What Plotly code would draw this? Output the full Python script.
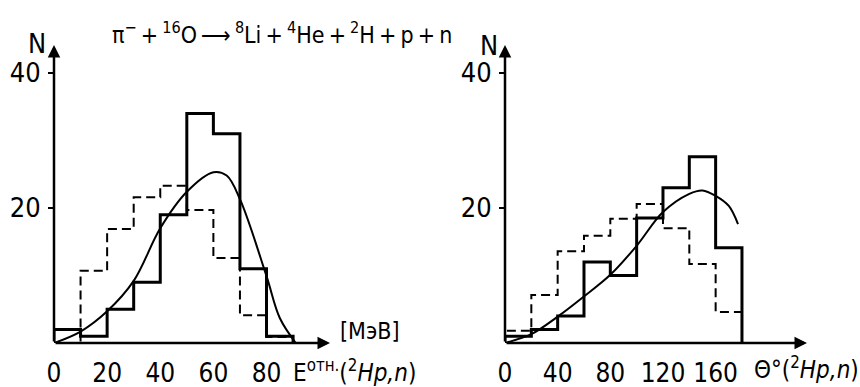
import plotly.graph_objects as go

# ---------------- data ----------------
e_edges = [0, 10, 20, 30, 40, 50, 60, 70, 80, 90]
e_solid = [2, 1, 5, 9, 19, 34, 31, 11, 1]
e_dashed = [0, 10.7, 16.9, 21.6, 23.3, 19.7, 12.6, 4.1, 0.9]
e_curve_x = [0, 10, 20, 30, 40, 50, 60, 65, 70, 80, 85, 91]
e_curve_y = [0, 1.7, 4.7, 9.2, 17, 22.4, 25.3, 24.8, 21.3, 9.9, 3.7, 0]
e_ticks = [0, 20, 40, 60, 80]

t_edges = [0, 20, 40, 60, 80, 100, 120, 140, 160, 180]
t_solid = [1, 2, 4, 12, 10, 18.5, 23, 27.6, 14.1]
t_dashed = [1.8, 7.1, 13.6, 15.9, 18.4, 20.6, 17, 11.7, 4.6]
t_curve_x = [0, 20, 40, 60, 80, 100, 120, 140, 150, 160, 170, 177]
t_curve_y = [0, 1.3, 3.9, 6.9, 10.1, 14.4, 19.4, 22.1, 22.6, 21.8, 20.3, 17.6]
t_ticks = [0, 40, 80, 120, 160]

n_ticks = [20, 40]

FONT = "Liberation Sans Narrow, DejaVu Sans Condensed, Arial Narrow, sans-serif"
W, H = 860, 387


def steps(edges, vals):
    xs, ys = [edges[0]], [0]
    for i, v in enumerate(vals):
        xs += [edges[i], edges[i + 1]]
        ys += [v, v]
    xs.append(edges[-1])
    ys.append(0)
    return xs, ys


fig = go.Figure()

for (edges, solid, dashed, cx, cy, xa, ya) in [
    (e_edges, e_solid, e_dashed, e_curve_x, e_curve_y, "x", "y"),
    (t_edges, t_solid, t_dashed, t_curve_x, t_curve_y, "x2", "y2"),
]:
    xs, ys = steps(edges, dashed)
    fig.add_trace(go.Scatter(x=xs, y=ys, mode="lines", xaxis=xa, yaxis=ya,
                             line=dict(color="black", width=2, dash="9px,5px"),
                             showlegend=False, hoverinfo="skip"))
    xs, ys = steps(edges, solid)
    fig.add_trace(go.Scatter(x=xs, y=ys, mode="lines", xaxis=xa, yaxis=ya,
                             line=dict(color="black", width=3),
                             showlegend=False, hoverinfo="skip"))
    fig.add_trace(go.Scatter(x=cx, y=cy, mode="lines", xaxis=xa, yaxis=ya,
                             line=dict(color="black", width=2, shape="spline"),
                             showlegend=False, hoverinfo="skip"))

ymax = 44.44
xax_common = dict(showgrid=False, zeroline=False, showline=False, ticks="",
                  automargin=False,
                  tickfont=dict(family=FONT, size=26, color="black"),
                  ticklabelstandoff=12)
yax_common = dict(showgrid=False, zeroline=False, showline=False, ticks="outside",
                  automargin=False,
                  ticklen=5, tickwidth=2, tickcolor="black",
                  tickvals=n_ticks, ticktext=[str(v) for v in n_ticks],
                  tickfont=dict(family=FONT, size=27, color="black"),
                  ticklabelstandoff=2, range=[0, ymax])

fig.update_layout(
    width=W, height=H, margin=dict(l=0, r=0, t=0, b=0, autoexpand=False),
    paper_bgcolor="white", plot_bgcolor="white",
    xaxis=dict(domain=[54 / W, 330 / W], range=[0, 103.9], anchor="y",
               tickvals=e_ticks, ticktext=[str(v) for v in e_ticks], **xax_common),
    yaxis=dict(domain=[(H - 343) / H, (H - 43) / H], anchor="x", **yax_common),
    xaxis2=dict(domain=[505 / W, 807 / W], range=[0, 229.4], anchor="y2",
                tickvals=t_ticks, ticktext=[str(v) for v in t_ticks], **xax_common),
    yaxis2=dict(domain=[(H - 343) / H, (H - 43) / H], anchor="x2", **yax_common),
)

# axis arrows
for xa, ya, xend in [("x", "y", 103.9), ("x2", "y2", 229.4)]:
    fig.add_annotation(x=xend, y=0, ax=0, ay=0, xref=xa, yref=ya, axref=xa, ayref=ya,
                       showarrow=True, arrowhead=2, arrowsize=1, arrowwidth=2.5,
                       arrowcolor="black", text="")
    fig.add_annotation(x=0, y=ymax - 0.3, ax=0, ay=0, xref=xa, yref=ya, axref=xa, ayref=ya,
                       showarrow=True, arrowhead=2, arrowsize=1, arrowwidth=2.5,
                       arrowcolor="black", text="")


def txt(text, px, py, size, xanchor="left"):
    fig.add_annotation(x=px / W, y=1 - py / H, xref="paper", yref="paper",
                       text=text, showarrow=False, xanchor=xanchor, yanchor="middle",
                       font=dict(family=FONT, size=size, color="black"))


T = "\u2009"
txt("π<sup>−</sup>" + T + "+" + T + "<sup>16</sup>O" + T + "⟶" + T + "<sup>8</sup>Li" + T + "+" + T +
    "<sup>4</sup>He" + T + "+" + T + "<sup>2</sup>H" + T + "+" + T + "p" + T + "+" + T + "n",
    110, 33, 23)
txt("N", 37, 43, 27, "center")
txt("N", 489, 46, 27, "center")
txt("[МэВ]", 370, 331, 23, "center")
txt("E<sup>отн.</sup>(<sup>2</sup><i>Hp,n</i>)", 291, 371, 24)
txt("Θ°(<sup>2</sup><i>Hp,n</i>)", 752, 368, 24)

fig.write_html("out.html")
